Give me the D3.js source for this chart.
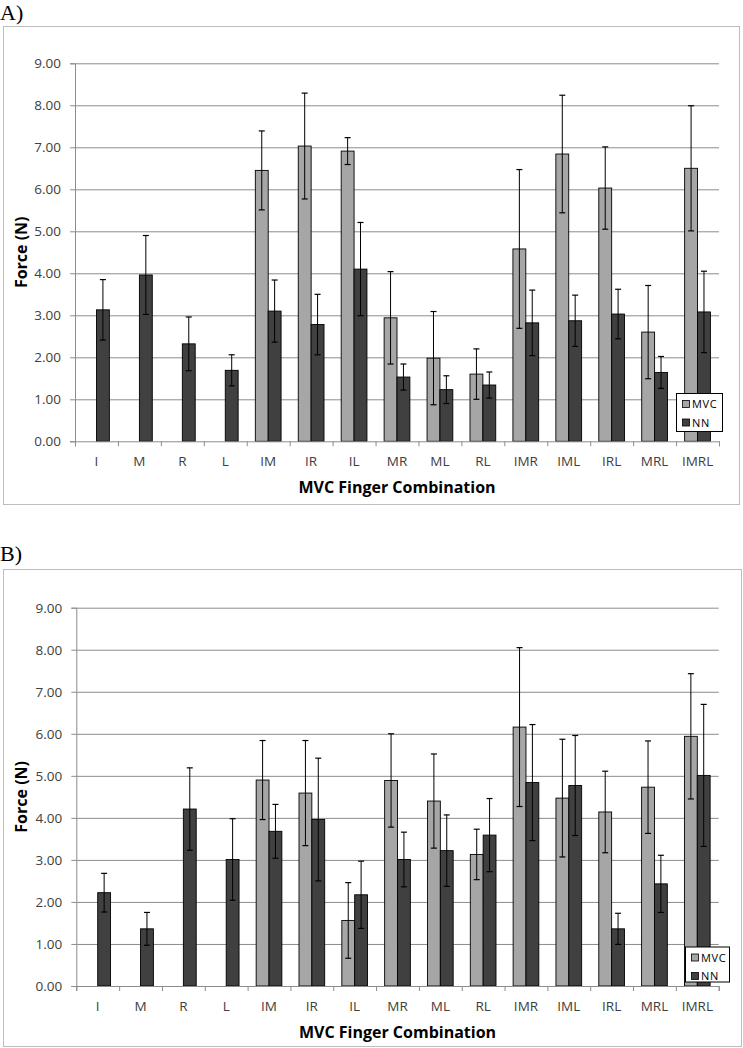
<!DOCTYPE html>
<html>
<head>
<meta charset="utf-8">
<script src="https://cdn.jsdelivr.net/npm/d3@7"></script>
<style>
  html, body { margin: 0; padding: 0; background: #fff; }
  svg { display: block; }
</style>
</head>
<body>
<svg id="chart" width="743" height="1048"></svg>
<script>
// ---- data ----
const categories = ["I","M","R","L","IM","IR","IL","MR","ML","RL","IMR","IML","IRL","MRL","IMRL"];
const seriesNames = ["MVC","NN"];
const yTicks = [0,1,2,3,4,5,6,7,8,9];

// Panel A
const panelA_MVC    = [null,null,null,null,6.45,7.03,6.91,2.94,1.98,1.60,4.58,6.84,6.03,2.60,6.50];
const panelA_MVC_SD = [null,null,null,null,0.94,1.26,0.32,1.10,1.11,0.60,1.89,1.40,0.98,1.11,1.49];
const panelA_NN     = [3.13,3.96,2.32,1.69,3.10,2.78,4.10,1.53,1.23,1.34,2.82,2.87,3.03,1.64,3.08];
const panelA_NN_SD  = [0.72,0.94,0.64,0.37,0.74,0.72,1.11,0.31,0.33,0.31,0.78,0.61,0.59,0.38,0.97];

// Panel B
const panelB_MVC    = [null,null,null,null,4.90,4.59,1.56,4.89,4.40,3.13,6.16,4.47,4.14,4.73,5.94];
const panelB_MVC_SD = [null,null,null,null,0.94,1.25,0.90,1.11,1.12,0.60,1.89,1.40,0.97,1.10,1.49];
const panelB_NN     = [2.22,1.36,4.21,3.01,3.68,3.96,2.17,3.01,3.22,3.59,4.84,4.77,1.36,2.43,5.01];
const panelB_NN_SD  = [0.46,0.39,0.98,0.97,0.64,1.46,0.80,0.65,0.85,0.87,1.38,1.19,0.37,0.68,1.69];

const xTitle = "MVC Finger Combination";
const yTitle = "Force (N)";

// ---- styles ----
const colors = { MVC: "#a6a6a6", NN: "#404040" };
const gridColor = "#8c8c8c";
const tickColor = "#404040";
const font = "'Open Sans', 'Liberation Sans', sans-serif";

const svg = d3.select("#chart");

function drawPanel(cfg) {
  const g = svg.append("g");

  // panel label
  g.append("text")
    .attr("x", 0).attr("y", cfg.labelY)
    .attr("font-family", "'Liberation Serif', 'Times New Roman', serif")
    .attr("font-size", 22).attr("fill", "#000")
    .text(cfg.label);

  // frame
  g.append("rect")
    .attr("x", cfg.frame[0] + 0.5).attr("y", cfg.frame[1] + 0.5)
    .attr("width", cfg.frame[2] - cfg.frame[0]).attr("height", cfg.frame[3] - cfg.frame[1])
    .attr("fill", "#fff").attr("stroke", "#bdbdbd").attr("stroke-width", 1);

  const x = d3.scaleBand().domain(categories).range([cfg.left, cfg.right]).paddingInner(0).paddingOuter(0);
  const xs = d3.scaleBand().domain(seriesNames).range([0, x.bandwidth()]).paddingInner(0).paddingOuter(2/3);
  const y = d3.scaleLinear().domain([0, 9]).range([cfg.bottom, cfg.top]);

  // gridlines
  const grid = g.append("g").attr("transform", `translate(${cfg.left},0)`)
    .call(d3.axisLeft(y).tickValues(yTicks.slice(1)).tickSize(-(cfg.right - cfg.left)).tickFormat(""));
  grid.select(".domain").remove();
  grid.selectAll("line").attr("stroke", gridColor).attr("stroke-width", 1);

  // bars
  const rows = categories.map((c, i) => ({
    cat: c,
    vals: [
      { s: "MVC", v: cfg.mvc[i], sd: cfg.mvcSD[i] },
      { s: "NN", v: cfg.nn[i], sd: cfg.nnSD[i] }
    ].filter(d => d.v !== null)
  }));

  const cg = g.selectAll("g.cat").data(rows).enter().append("g")
    .attr("class", "cat")
    .attr("transform", d => `translate(${x(d.cat)},0)`);

  cg.selectAll("rect").data(d => d.vals).enter().append("rect")
    .attr("x", d => xs(d.s))
    .attr("y", d => y(d.v))
    .attr("width", xs.bandwidth())
    .attr("height", d => y(0) - y(d.v))
    .attr("fill", d => colors[d.s])
    .attr("stroke", "#000").attr("stroke-width", 0.9);

  // error bars
  const eb = cg.selectAll("g.err").data(d => d.vals).enter().append("g").attr("class", "err");
  const cx = d => xs(d.s) + xs.bandwidth() / 2;
  eb.append("line")
    .attr("x1", cx).attr("x2", cx)
    .attr("y1", d => y(d.v + d.sd)).attr("y2", d => y(d.v - d.sd))
    .attr("stroke", "#000").attr("stroke-width", 1);
  eb.append("line")
    .attr("x1", d => cx(d) - 3).attr("x2", d => cx(d) + 3)
    .attr("y1", d => y(d.v + d.sd)).attr("y2", d => y(d.v + d.sd))
    .attr("stroke", "#000").attr("stroke-width", 1.2);
  eb.append("line")
    .attr("x1", d => cx(d) - 3).attr("x2", d => cx(d) + 3)
    .attr("y1", d => y(d.v - d.sd)).attr("y2", d => y(d.v - d.sd))
    .attr("stroke", "#000").attr("stroke-width", 1.2);

  // y axis
  const ya = g.append("g").attr("transform", `translate(${cfg.left},0)`)
    .call(d3.axisLeft(y).tickValues(yTicks).tickSize(5).tickPadding(9).tickFormat(d3.format(".2f")));
  ya.select(".domain").attr("stroke", gridColor);
  ya.selectAll("line").attr("stroke", gridColor);
  ya.selectAll("text").attr("font-family", font).attr("font-size", 13.5).attr("fill", tickColor);

  // x axis: boundary ticks
  const xb = d3.scaleLinear().domain([0, categories.length]).range([cfg.left, cfg.right]);
  const xa = g.append("g").attr("transform", `translate(0,${cfg.bottom})`)
    .call(d3.axisBottom(xb).tickValues(d3.range(0, categories.length + 1)).tickSize(5).tickSizeOuter(5).tickFormat(""));
  xa.select(".domain").attr("stroke", gridColor);
  xa.selectAll("line").attr("stroke", gridColor);

  // x axis labels
  const xl = g.append("g").attr("transform", `translate(0,${cfg.bottom})`)
    .call(d3.axisBottom(x).tickSize(0).tickPadding(15));
  xl.select(".domain").remove();
  xl.selectAll("text").attr("font-family", font).attr("font-size", 13.5).attr("fill", tickColor);

  // axis titles
  g.append("text")
    .attr("x", (cfg.left + cfg.right) / 2).attr("y", cfg.bottom + 52)
    .attr("text-anchor", "middle")
    .attr("font-family", font).attr("font-weight", "bold").attr("font-size", 16).attr("fill", "#000")
    .text(xTitle);
  g.append("text")
    .attr("transform", `translate(27,${(cfg.top + cfg.bottom) / 2}) rotate(-90)`)
    .attr("text-anchor", "middle")
    .attr("font-family", font).attr("font-weight", "bold").attr("font-size", 16).attr("fill", "#000")
    .text(yTitle);

  // legend
  const lg = g.append("g").attr("transform", `translate(${cfg.legend[0]},${cfg.legend[1]})`);
  lg.append("rect").attr("x", 0.5).attr("y", 0.5).attr("width", cfg.legend[2]).attr("height", cfg.legend[3])
    .attr("fill", "#fff").attr("stroke", "#000").attr("stroke-width", 1);
  seriesNames.forEach((s, i) => {
    lg.append("rect").attr("x", 6.5).attr("y", 7.5 + i * 18.5).attr("width", 7).attr("height", 7)
      .attr("fill", colors[s]).attr("stroke", "#000").attr("stroke-width", 0.8);
    lg.append("text").attr("x", 16).attr("y", 15 + i * 18.5)
      .attr("font-family", font).attr("font-size", 11).attr("fill", "#000")
      .attr("letter-spacing", 0.6)
      .text(s);
  });
}

drawPanel({
  label: "A)", labelY: 20,
  frame: [3, 26, 739, 504],
  left: 75, right: 719, top: 63.3, bottom: 441.3,
  mvc: panelA_MVC, mvcSD: panelA_MVC_SD, nn: panelA_NN, nnSD: panelA_NN_SD,
  legend: [676, 393, 46, 38]
});

drawPanel({
  label: "B)", labelY: 561,
  frame: [3, 569, 741, 1046],
  left: 76.3, right: 718.7, top: 607.7, bottom: 986,
  mvc: panelB_MVC, mvcSD: panelB_MVC_SD, nn: panelB_NN, nnSD: panelB_NN_SD,
  legend: [685, 946.5, 44, 35]
});
</script>
</body>
</html>
